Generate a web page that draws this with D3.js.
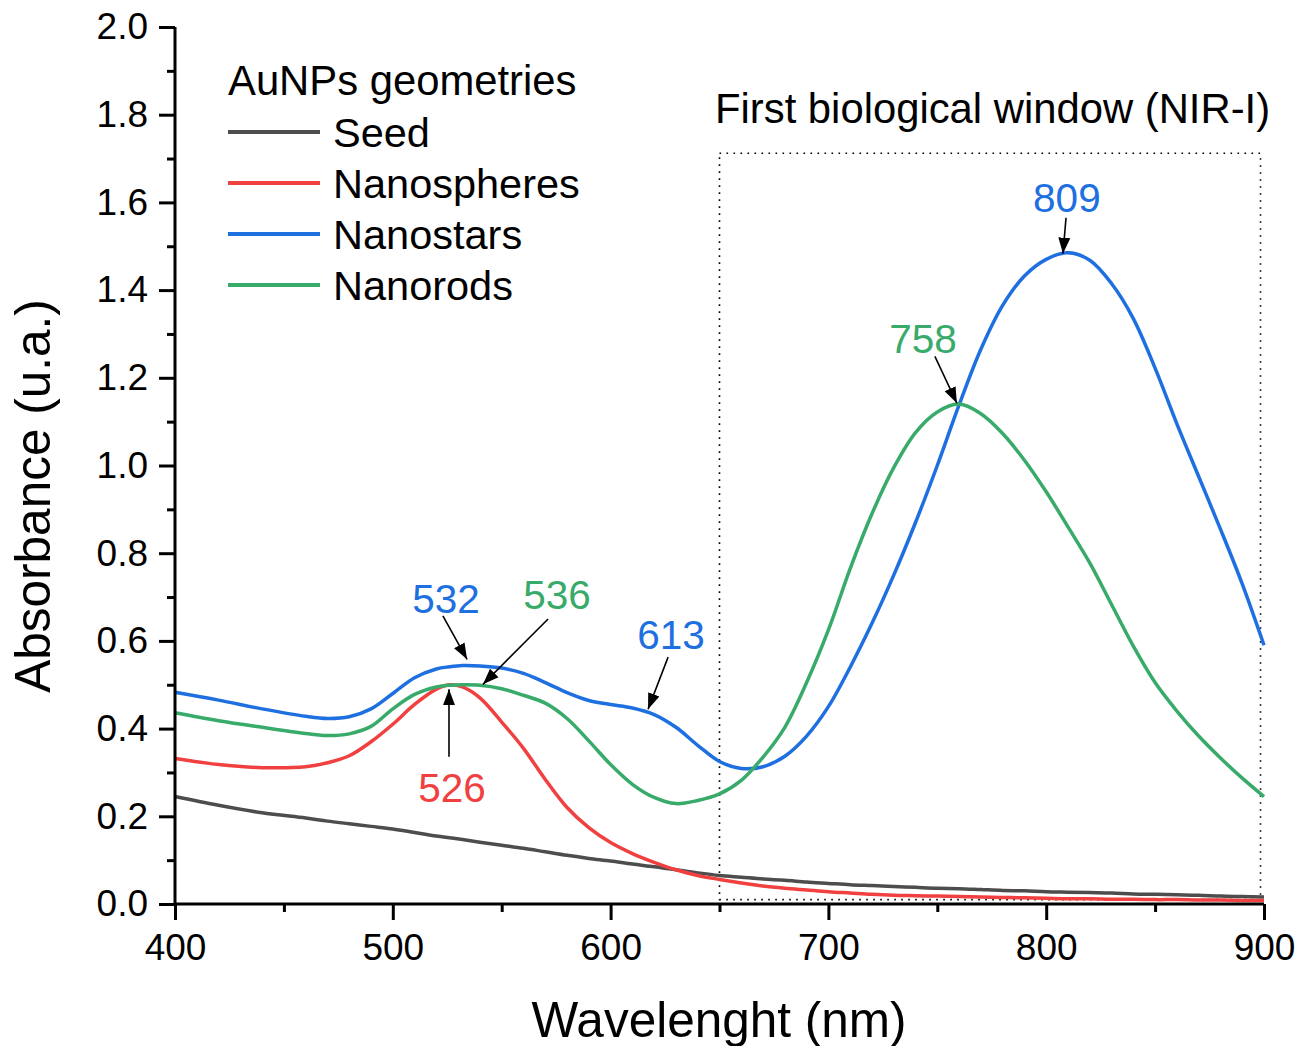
<!DOCTYPE html>
<html><head><meta charset="utf-8">
<script src="https://cdn.jsdelivr.net/npm/d3@7"></script>
<style>body{margin:0;background:#fff}svg{display:block}text{font-family:"Liberation Sans",Arial,sans-serif}</style>
</head><body><svg id="c" width="1307" height="1046"></svg>
<script>
const wavelength = [400,420,440,460,470,480,490,500,510,520,526,532,540,550,560,570,580,590,600,610,620,630,640,650,660,670,680,690,700,710,720,730,740,750,760,770,780,790,800,810,820,830,840,850,860,870,880,890,900];
const seed = [0.245,0.225,0.208,0.196,0.189,0.183,0.177,0.171,0.163,0.155,0.151,0.147,0.141,0.134,0.127,0.119,0.111,0.104,0.098,0.091,0.085,0.078,0.071,0.065,0.061,0.057,0.054,0.050,0.047,0.044,0.042,0.040,0.038,0.036,0.035,0.033,0.031,0.030,0.028,0.027,0.026,0.025,0.023,0.022,0.021,0.020,0.018,0.017,0.016];
const nanospheres = [0.332,0.318,0.311,0.313,0.322,0.338,0.370,0.410,0.455,0.490,0.500,0.495,0.470,0.415,0.355,0.284,0.220,0.174,0.140,0.115,0.095,0.078,0.065,0.056,0.048,0.041,0.036,0.032,0.028,0.025,0.022,0.020,0.019,0.018,0.017,0.016,0.015,0.014,0.013,0.012,0.012,0.011,0.011,0.010,0.010,0.009,0.009,0.008,0.008];
const nanostars = [0.483,0.465,0.445,0.428,0.423,0.427,0.445,0.480,0.516,0.536,0.541,0.544,0.543,0.538,0.526,0.505,0.482,0.464,0.455,0.447,0.432,0.403,0.362,0.325,0.309,0.313,0.337,0.383,0.450,0.540,0.640,0.750,0.870,1.000,1.138,1.265,1.365,1.432,1.470,1.485,1.468,1.415,1.335,1.222,1.095,0.975,0.855,0.730,0.590];
const nanorods = [0.436,0.418,0.403,0.389,0.384,0.388,0.405,0.445,0.478,0.495,0.499,0.500,0.499,0.491,0.476,0.458,0.423,0.372,0.318,0.273,0.243,0.229,0.236,0.251,0.282,0.335,0.403,0.505,0.625,0.765,0.890,0.995,1.075,1.122,1.140,1.118,1.073,1.012,0.940,0.860,0.778,0.683,0.588,0.505,0.440,0.383,0.333,0.287,0.245];
const seriesNames = ["Seed","Nanospheres","Nanostars","Nanorods"];
const seriesColors = ["#4d4d4d","#f04040","#1e6fe0","#38aa6a"];
const xTicks = [400,500,600,700,800,900];
const yTicks = [0.0,0.2,0.4,0.6,0.8,1.0,1.2,1.4,1.6,1.8,2.0];
// peak annotations: label, color, label position, arrow start, arrow end (data units)
const peakLabels = ["532","536","526","613","758","809"];
const peakColors = ["#1e6fe0","#38aa6a","#f04040","#1e6fe0","#38aa6a","#1e6fe0"];
const labelPos = [[524.4,0.664],[575.4,0.673],[527.2,0.233],[627.7,0.581],[743.4,1.256],[809.5,1.577]];
const arrowFrom = [[523.0,0.657],[571.3,0.650],[525.8,0.336],[626.4,0.563],[748.9,1.249],[809.1,1.565]];
const arrowTo = [[534.1,0.558],[541.4,0.501],[525.8,0.490],[617.2,0.444],[759.0,1.142],[807.7,1.483]];
const nirWindow = [650, 898.4, 0.01, 1.712];

const svg = d3.select("#c");
const x = d3.scaleLinear().domain([400,900]).range([175,1264]);
const y = d3.scaleLinear().domain([0,2]).range([904,27]);
const allSeries = [seed,nanospheres,nanostars,nanorods];

// NIR window box
svg.append("rect").attr("x",x(nirWindow[0])).attr("y",y(nirWindow[3]))
  .attr("width",x(nirWindow[1])-x(nirWindow[0])).attr("height",y(nirWindow[2])-y(nirWindow[3]))
  .attr("fill","none").attr("stroke","#000").attr("stroke-width",1.6).attr("stroke-dasharray","1.6,5.4");
svg.append("text").attr("x",715).attr("y",123).attr("font-size",41.8).text("First biological window (NIR-I)");

// curves
const line = d3.line().x((d,i)=>x(wavelength[i])).y(d=>y(d)).curve(d3.curveCatmullRom.alpha(0.5));
allSeries.forEach((s,k)=>{
  svg.append("path").attr("d",line(s)).attr("fill","none").attr("stroke",seriesColors[k]).attr("stroke-width",3.5).attr("stroke-linejoin","round");
});

// axes
const xAxis = d3.axisBottom(x).tickValues(xTicks).tickSize(16).tickPadding(14).tickFormat(d3.format("d"));
const xMinor = d3.axisBottom(x).tickValues(d3.range(450,900,100)).tickSize(8).tickFormat("");
const yAxis = d3.axisLeft(y).tickValues(yTicks).tickSize(16).tickPadding(11).tickFormat(d3.format(".1f"));
const yMinor = d3.axisLeft(y).tickValues(d3.range(0.1,2.0,0.2)).tickSize(8).tickFormat("");
function style(g){g.selectAll("path").attr("stroke-width",3).attr("stroke","#000");
  g.selectAll("line").attr("stroke-width",3).attr("stroke","#000");
  g.selectAll("text").attr("font-size",37).attr("fill","#000").attr("font-family","'Liberation Sans',Arial,sans-serif");}
svg.append("g").attr("transform","translate(0,904)").call(xMinor).call(style).select(".domain").remove();
svg.append("g").attr("transform","translate(175,0)").call(yMinor).call(style).select(".domain").remove();
const gx = svg.append("g").attr("transform","translate(0,904)").call(xAxis).call(style);
gx.select(".domain").attr("d",`M175,0H1264`);
const gy = svg.append("g").attr("transform","translate(175,0)").call(yAxis).call(style);
gy.select(".domain").attr("d",`M0,27V904`);

// axis titles
svg.append("text").attr("x",719).attr("y",1037).attr("text-anchor","middle").attr("font-size",49.5).text("Wavelenght (nm)");
svg.append("text").attr("transform","translate(50,496) rotate(-90)").attr("text-anchor","middle").attr("font-size",49.5).text("Absorbance (u.a.)");

// legend
svg.append("text").attr("x",228).attr("y",95).attr("font-size",41.8).text("AuNPs geometries");
seriesNames.forEach((n,k)=>{
  const ly = 132 + k*51;
  svg.append("line").attr("x1",228).attr("x2",320).attr("y1",ly).attr("y2",ly).attr("stroke",seriesColors[k]).attr("stroke-width",4);
  svg.append("text").attr("x",333).attr("y",ly).attr("dy","0.36em").attr("font-size",41.5).text(n);
});

// annotations
const marker = svg.append("defs").append("marker").attr("id","ah").attr("viewBox","0 0 16 16").attr("refX",16).attr("refY",8)
  .attr("markerWidth",16).attr("markerHeight",16).attr("markerUnits","userSpaceOnUse").attr("orient","auto");
marker.append("path").attr("d","M0,2L16,8L0,14Z").attr("fill","#000");
peakLabels.forEach((t,i)=>{
  svg.append("line").attr("x1",x(arrowFrom[i][0])).attr("y1",y(arrowFrom[i][1]))
    .attr("x2",x(arrowTo[i][0])).attr("y2",y(arrowTo[i][1])).attr("stroke","#000").attr("stroke-width",1.6).attr("marker-end","url(#ah)");
  svg.append("text").attr("x",x(labelPos[i][0])).attr("y",y(labelPos[i][1])).attr("text-anchor","middle")
    .attr("font-size",40.5).attr("fill",peakColors[i]).text(t);
});
</script></body></html>
